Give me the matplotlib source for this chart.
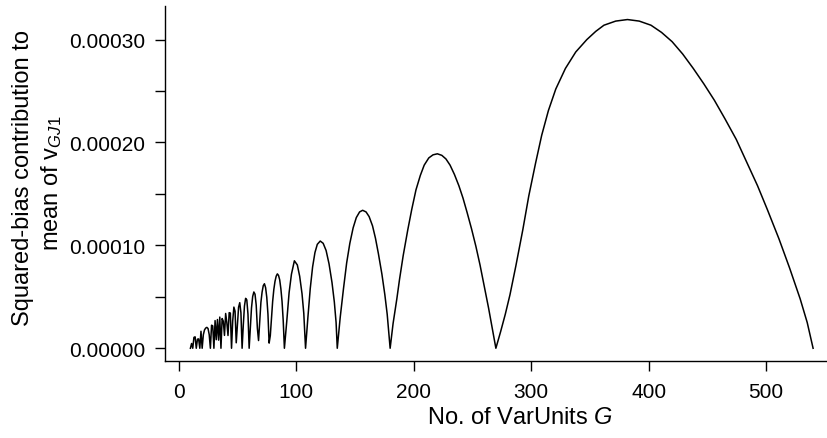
import matplotlib
matplotlib.use("Agg")
import matplotlib.pyplot as plt
from matplotlib.ticker import MultipleLocator

# ---- data ----
# small G region, one value per integer G (10..90)
g_small = list(range(10, 91))
v_small = [
    0.0, 4.6e-6, 0.0, 1.06e-5, 1.11e-5, 0.0, 8.8e-6, 9.1e-6, 0.0, 1.65e-5,
    0.0, 1.31e-5, 1.78e-5, 1.96e-5, 2.03e-5, 1.92e-5, 1.33e-5, 0.0, 2.24e-5, 2.18e-5,
    0.0, 2.69e-5, 8.3e-6, 2.79e-5, 7.9e-6, 3.03e-5, 0.0, 2.89e-5, 2.63e-5, 1.25e-5,
    3.38e-5, 2.5e-5, 1.24e-5, 3.46e-5, 3.42e-5, 0.0, 2.66e-5, 4.0e-5, 3.6e-5, 5.3e-6,
    2.24e-5, 3.98e-5, 4.43e-5, 3.45e-5, 0.0, 2.23e-5, 4.1e-5, 4.85e-5, 4.7e-5, 3.31e-5,
    0.0, 1.94e-5, 3.93e-5, 5.03e-5, 5.47e-5, 5.25e-5, 4.2e-5, 1.94e-5, 7.5e-6, 2.63e-5,
    4.45e-5, 5.45e-5, 6.08e-5, 6.27e-5, 5.89e-5, 4.95e-5, 3.32e-5, 5.0e-6, 1.23e-5, 2.89e-5,
    4.55e-5, 5.71e-5, 6.5e-5, 7.0e-5, 7.23e-5, 7.08e-5, 6.65e-5, 5.78e-5, 4.55e-5, 2.67e-5,
    0.0,
]

# larger G region, points read along the arches
g_arch5 = [92, 94, 96, 98.5, 101, 103, 105, 106.5, 108]
v_arch5 = [2.6e-5, 5.4e-5, 7.2e-5, 8.5e-5, 8.1e-5, 7.0e-5, 5.3e-5, 3.4e-5, 0.0]

g_arch4 = [110, 112, 114, 116, 118, 120.5, 123, 125.5, 128, 130.5, 132.5, 134, 135]
v_arch4 = [3.0e-5, 5.8e-5, 7.9e-5, 9.3e-5, 1.01e-4, 1.042e-4, 1.02e-4, 9.5e-5, 8.2e-5,
           6.4e-5, 4.5e-5, 2.5e-5, 0.0]

g_arch3 = [137.5, 140.3, 143, 145.7, 148.5, 151.2, 154, 156.6, 159.5, 162.1, 165, 167.5,
           170, 173, 175.5, 177.5, 180]
v_arch3 = [3.0e-5, 5.8e-5, 8.3e-5, 1.02e-4, 1.17e-4, 1.27e-4, 1.325e-4, 1.341e-4, 1.325e-4,
           1.28e-4, 1.19e-4, 1.07e-4, 9.2e-5, 7.2e-5, 5.2e-5, 3.3e-5, 0.0]

g_arch2 = [182.5, 185.7, 188, 191.1, 195, 198.4, 202, 205.7, 209, 212.9, 216.5, 220.2, 224,
           227.5, 231, 234.7, 238.5, 242, 245.5, 249.3, 253, 256.5, 260, 263.8, 267, 270]
v_arch2 = [2.4e-5, 4.8e-5, 6.7e-5, 9.0e-5, 1.15e-4, 1.35e-4, 1.54e-4, 1.68e-4, 1.78e-4,
           1.85e-4, 1.88e-4, 1.89e-4, 1.875e-4, 1.84e-4, 1.78e-4, 1.69e-4, 1.58e-4, 1.46e-4,
           1.32e-4, 1.16e-4, 9.9e-5, 8.1e-5, 6.1e-5, 3.9e-5, 1.9e-5, 0.0]

g_arch1 = [274, 278, 282, 287, 292.9, 298, 303.8, 309, 314.7, 321, 329.2, 338, 347.4, 355,
           362, 372, 382, 392, 402, 411, 420, 429, 438, 447, 456, 465, 474.6, 483, 492.7,
           501, 510.9, 520, 529, 535, 540]
v_arch1 = [1.6e-5, 3.3e-5, 5.2e-5, 8.0e-5, 1.15e-4, 1.48e-4, 1.8e-4, 2.07e-4, 2.31e-4,
           2.52e-4, 2.72e-4, 2.88e-4, 3.0e-4, 3.08e-4, 3.14e-4, 3.18e-4, 3.195e-4, 3.18e-4,
           3.14e-4, 3.07e-4, 2.98e-4, 2.86e-4, 2.72e-4, 2.57e-4, 2.41e-4, 2.23e-4, 2.03e-4,
           1.82e-4, 1.58e-4, 1.35e-4, 1.065e-4, 7.8e-5, 4.8e-5, 2.5e-5, 0.0]

G = g_small + g_arch5 + g_arch4 + g_arch3 + g_arch2 + g_arch1
V = v_small + v_arch5 + v_arch4 + v_arch3 + v_arch2 + v_arch1

x_ticks = [0, 100, 200, 300, 400, 500]
y_major = [0.0, 0.0001, 0.0002, 0.0003]
y_labels = ["0.00000", "0.00010", "0.00020", "0.00030"]

# ---- style ----
plt.rcParams["font.family"] = ["Liberation Sans", "DejaVu Sans"]
plt.rcParams["mathtext.fontset"] = "custom"
plt.rcParams["mathtext.rm"] = "Liberation Sans"
plt.rcParams["mathtext.it"] = "Liberation Sans:italic"

W, H = 828, 439
fig = plt.figure(figsize=(W / 100, H / 100), dpi=100)
left_px, right_px, top_px, bot_px = 165.5, 838.0, 7.4, 362.4
ax = fig.add_axes([left_px / W, 1 - bot_px / H, (right_px - left_px) / W, (bot_px - top_px) / H])

ax.plot(G, V, color="black", lw=1.1)

xmin, xmax = min(G), max(G)
pad = 0.04 * (xmax - xmin)
ax.set_xlim(xmin - pad, xmax + pad)
ymax = max(V)
ax.set_ylim(-0.04 * ymax, ymax * 1.04)

ax.set_xticks(x_ticks)
ax.set_xticklabels([str(t) for t in x_ticks])
ax.set_yticks(y_major)
ax.set_yticklabels(y_labels)
ax.yaxis.set_minor_locator(MultipleLocator(0.00005))

ax.tick_params(axis="both", which="both", direction="out", length=7.5, width=1.0,
               labelsize=15, pad=7, color="black")

for s in ["top", "right"]:
    ax.spines[s].set_visible(False)
for s in ["left", "bottom"]:
    ax.spines[s].set_linewidth(1.0)

fig.text(520 / W, 1 - 418 / H, r"No. of VarUnits $\mathit{G}$", ha="center", va="center", fontsize=17)
fig.text(22.7 / W, 1 - 178 / H, "Squared-bias contribution to", rotation=90,
         ha="center", va="center", fontsize=17)
fig.text(51.7 / W, 1 - 183 / H, r"mean of v$_{\mathit{GJ1}}$", rotation=90,
         ha="center", va="center", fontsize=17)

fig.savefig("out.png", dpi=100)
